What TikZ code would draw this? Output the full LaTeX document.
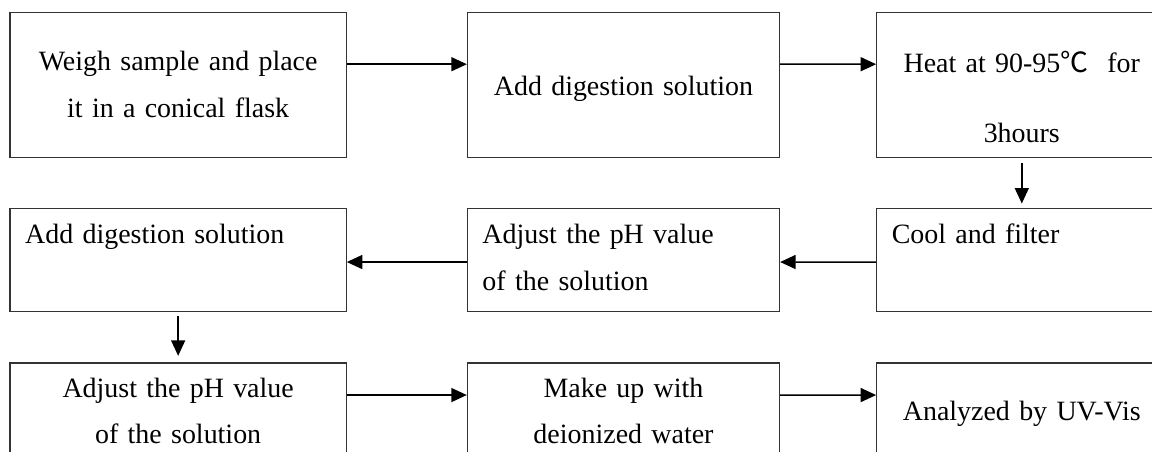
\documentclass[tikz,border=0pt]{standalone}
\usepackage{fontspec}
\setmainfont{Liberation Serif}
\newfontfamily\cjk{Noto Sans CJK SC}
\usetikzlibrary{arrows.meta, positioning, calc}

\begin{document}
\begin{tikzpicture}[
    >={Triangle[length=0.31cm, width=0.28cm]},
    block/.style={draw=black!80, line width=0.75pt, inner xsep=0.3cm, inner ysep=0pt,
        font=\fontsize{15.9}{26.7}\selectfont},
    colA/.style={text width=6.12cm},
    colB/.style={text width=5.64cm},
    colC/.style={text width=5.2cm},
    flow/.style={->, line width=0.85pt},
    node distance=1cm
]

\node[block, colA, align=center, text height=1.166cm, text depth=1.734cm] (weigh)
    {Weigh sample and place\\it in a conical flask};
\node[block, colB, align=center, text height=1.666cm, text depth=1.234cm, right=2.4cm of weigh] (digest)
    {Add digestion solution};
\node[block, colC, align=center, text height=1.206cm, text depth=1.694cm, right=1.92cm of digest] (heat)
    {Heat at 90-95{\cjk ℃}\hspace{0.35em} for\\[13pt]3hours};

\node[block, colC, align=left, text height=0.7cm, text depth=1.36cm, below=of heat] (cool)
    {Cool and filter};
\node[block, colB, align=left, text height=0.7cm, text depth=1.36cm, below=of digest] (adjust)
    {Adjust the pH value\\of the solution};
\node[block, colA, align=left, text height=0.7cm, text depth=1.36cm, below=of weigh] (digestb)
    {Add digestion solution};

\node[block, colA, align=center, text height=0.68cm, text depth=1.38cm, below=of digestb] (adjustb)
    {Adjust the pH value\\of the solution};
\node[block, colB, align=center, text height=0.68cm, text depth=1.38cm, below=of adjust] (makeup)
    {Make up with\\deionized water};
\node[block, colC, align=center, text height=1.154cm, text depth=0.906cm, below=of cool] (uvvis)
    {Analyzed by UV-Vis};

\draw[flow] ([yshift=-1.05cm]weigh.north east) -- ([yshift=-1.05cm]digest.north west);
\draw[flow] ([yshift=-1.05cm]digest.north east) -- ([yshift=-1.05cm]heat.north west);
\draw[flow, shorten <=0.1cm, shorten >=0.09cm] (heat) -- (cool);
\draw[flow] ([yshift=-1.08cm]cool.north west) -- ([yshift=-1.08cm]adjust.north east);
\draw[flow] ([yshift=-1.08cm]adjust.north west) -- ([yshift=-1.08cm]digestb.north east);
\draw[flow, shorten <=0.07cm, shorten >=0.13cm] (digestb) -- (adjustb);
\draw[flow] ([yshift=-0.654cm]adjustb.north east) -- ([yshift=-0.654cm]makeup.north west);
\draw[flow] ([yshift=-0.654cm]makeup.north east) -- ([yshift=-0.654cm]uvvis.north west);

\pgfresetboundingbox
\useasboundingbox ([shift={(-0.19cm,0.234cm)}]weigh.north west) rectangle ++(23.04cm,-9.02cm);

\end{tikzpicture}
\end{document}
